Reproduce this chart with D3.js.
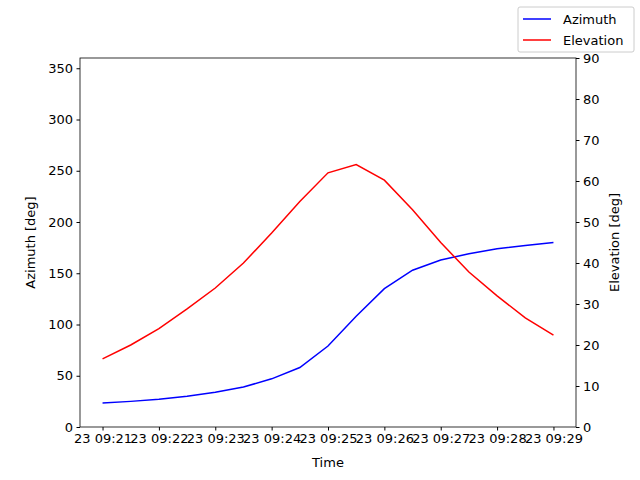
<!DOCTYPE html><html><head><script src="https://cdn.jsdelivr.net/npm/d3@7"></script>
<style>body{margin:0;background:#fff}text{font-family:"DejaVu Sans";}</style></head><body>
<svg id="c" width="640" height="480"></svg>
<script>
const minutes=[0,0.5,1,1.5,2,2.5,3,3.5,4,4.5,5,5.5,6,6.5,7,7.5,8];
const azimuth=[23.4,25,27,30,34,39,47,58,79,108,135,153,163,169,174,177,180];
const elevation=[16.6,20,24,28.8,33.9,40,47.3,55,62,64,60.2,53,45,37.8,32,26.6,22.4];
const xTicks=[0,1,2,3,4,5,6,7,8];
const xTickLabels=["23 09:21","23 09:22","23 09:23","23 09:24","23 09:25","23 09:26","23 09:27","23 09:28","23 09:29"];
const svg=d3.select("#c");
const L=80,R=576,T=58,B=427;
const x=d3.scaleLinear().domain([-0.4,8.4]).range([L,R]);
const yA=d3.scaleLinear().domain([0,360]).range([B,T]);
const yE=d3.scaleLinear().domain([0,90]).range([B,T]);
const fs="13px";
const gx=svg.append("g").attr("transform",`translate(0,${B})`).call(d3.axisBottom(x).tickValues(xTicks).tickFormat((d,i)=>xTickLabels[i]).tickSizeOuter(0).tickSize(3.5).tickPadding(3.5));
const gl=svg.append("g").attr("transform",`translate(${L},0)`).call(d3.axisLeft(yA).tickValues(d3.range(0,351,50)).tickSizeOuter(0).tickSize(3.5).tickPadding(3.5));
const gr=svg.append("g").attr("transform",`translate(${R},0)`).call(d3.axisRight(yE).tickValues(d3.range(0,91,10)).tickSizeOuter(0).tickSize(3.5).tickPadding(3.5));
[gx,gl,gr].forEach(g=>{g.selectAll("text").attr("font-size",fs).attr("font-family","DejaVu Sans").attr("fill","#000");g.selectAll("line").attr("stroke","#000");g.select(".domain").remove();});
svg.append("rect").attr("x",L).attr("y",T).attr("width",R-L).attr("height",B-T).attr("fill","none").attr("stroke","#000").attr("stroke-width",0.8);
const lineA=d3.line().x((d,i)=>x(minutes[i])).y(d=>yA(d));
const lineE=d3.line().x((d,i)=>x(minutes[i])).y(d=>yE(d));
svg.append("path").attr("d",lineA(azimuth)).attr("fill","none").attr("stroke","blue").attr("stroke-width",1.5);
svg.append("path").attr("d",lineE(elevation)).attr("fill","none").attr("stroke","red").attr("stroke-width",1.5);
svg.append("text").attr("x",(L+R)/2).attr("y",467).attr("text-anchor","middle").attr("font-size",fs).text("Time");
svg.append("text").attr("transform",`translate(35,${(T+B)/2}) rotate(-90)`).attr("text-anchor","middle").attr("font-size",fs).text("Azimuth [deg]");
svg.append("text").attr("transform",`translate(619,${(T+B)/2}) rotate(-90)`).attr("text-anchor","middle").attr("font-size",fs).text("Elevation [deg]");
const lg=svg.append("g");
lg.append("rect").attr("x",518).attr("y",7).attr("width",116).attr("height",45).attr("rx",2).attr("fill","#fff").attr("stroke","#ccc");
[["Azimuth","blue"],["Elevation","red"]].forEach((s,i)=>{
 const yy=19+i*21;
 lg.append("line").attr("x1",523).attr("x2",551).attr("y1",yy).attr("y2",yy).attr("stroke",s[1]).attr("stroke-width",1.5);
 lg.append("text").attr("x",563).attr("y",yy+5).attr("font-size",fs).text(s[0]);
});
</script></body></html>
